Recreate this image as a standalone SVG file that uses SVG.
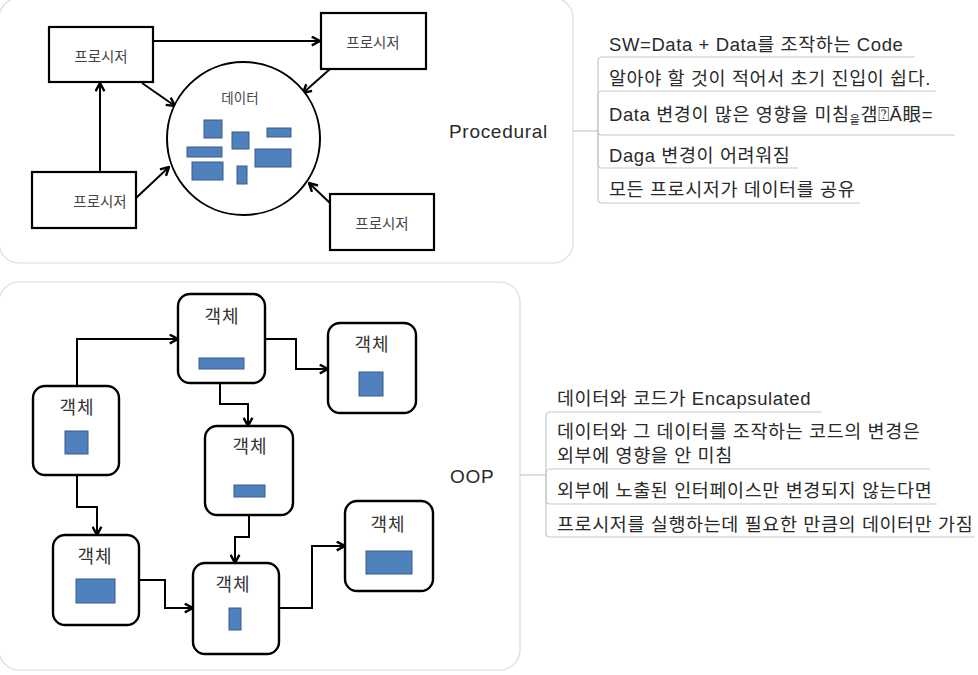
<svg xmlns="http://www.w3.org/2000/svg" width="978" height="675" viewBox="0 0 978 675">
<defs>
<style>
.panel{fill:#fff;stroke:#dcdcdc;stroke-width:1.2}
.box{fill:#fff;stroke:#000;stroke-width:2.2}
.obj{fill:#fff;stroke:#000;stroke-width:2.4}
.blue{fill:#4f81bd;stroke:#385d8a;stroke-width:1}
.conn{fill:none;stroke:#000;stroke-width:2;marker-end:url(#arr)}
.br{fill:none;stroke:#c9c9c9;stroke-width:1.2}
.lbl{font-family:"Noto Sans CJK KR","Liberation Sans",sans-serif;fill:#444;text-anchor:middle}
.obl{font-family:"Noto Sans CJK KR","Liberation Sans",sans-serif;fill:#333;text-anchor:middle;font-size:18px;letter-spacing:1px}
.item{font-family:"Liberation Sans","Noto Sans CJK KR",sans-serif;font-size:18.5px;letter-spacing:0.6px;fill:#2a2a2a}
.root{font-family:"Liberation Sans","Noto Sans CJK KR",sans-serif;font-size:19px;letter-spacing:0.7px;fill:#2a2a2a}
</style>
<marker id="arr" viewBox="0 0 10 10" refX="9" refY="5" markerWidth="11" markerHeight="11" markerUnits="userSpaceOnUse" orient="auto">
<path d="M1.5,1 L9,5 L1.5,9" fill="none" stroke="#000" stroke-width="2.2"/>
</marker>
</defs>
<rect width="978" height="675" fill="#fff"/>

<rect class="panel" x="-1" y="-2" width="574" height="265" rx="20"/>
<rect class="panel" x="-1" y="282" width="521" height="388" rx="20"/>

<g id="connectors">
<line class="conn" x1="153" y1="41" x2="320" y2="41"/>
<line class="conn" x1="100" y1="172" x2="100" y2="83"/>
<line class="conn" x1="142" y1="83" x2="175" y2="106"/>
<line class="conn" x1="136" y1="198" x2="169" y2="167"/>
<line class="conn" x1="330" y1="69" x2="303" y2="93"/>
<line class="conn" x1="331" y1="204" x2="309" y2="183"/>

<polyline class="conn" points="77,386 77,339 178,339"/>
<polyline class="conn" points="265,339 296,339 296,369 328,369"/>
<polyline class="conn" points="220,383 220,404 248,404 248,426"/>
<polyline class="conn" points="77,475 77,507 97,507 97,535"/>
<polyline class="conn" points="249,515 249,537 235,537 235,563"/>
<polyline class="conn" points="139,580 165,580 165,608 193,608"/>
<polyline class="conn" points="279,608 312,608 312,546 345,546"/>

<line class="br" x1="573" y1="131" x2="598" y2="131"/>
<path class="br" d="M598,131 V61 Q598,57 602,57 H915"/>
<path class="br" d="M598,131 V95 Q598,91 602,91 H936"/>
<path class="br" d="M598,131 Q598,135 602,135 H955"/>
<path class="br" d="M598,131 V164 Q598,168 602,168 H798"/>
<path class="br" d="M598,131 V199 Q598,203 602,203 H860"/>

<line class="br" x1="520" y1="475" x2="546" y2="475"/>
<path class="br" d="M546,475 V416 Q546,412 550,412 H822"/>
<path class="br" d="M546,475 Q546,469 550,469 H930"/>
<path class="br" d="M546,475 V500 Q546,504 550,504 H937"/>
<path class="br" d="M546,475 V533 Q546,537 550,537 H975"/>
</g>

<g id="proc1"><rect class="box" x="49" y="27" width="104" height="55"/><text class="lbl" x="101" y="62" font-size="14.5">프로시저</text></g>
<g id="proc2"><rect class="box" x="321" y="13" width="105" height="56"/><text class="lbl" x="373" y="48" font-size="14.5">프로시저</text></g>
<g id="proc3"><rect class="box" x="32" y="172" width="104" height="56"/><text class="lbl" x="100" y="207" font-size="14.5">프로시저</text></g>
<g id="proc4"><rect class="box" x="330" y="194" width="104" height="56"/><text class="lbl" x="382" y="229" font-size="14.5">프로시저</text></g>

<g id="data">
<ellipse cx="243.5" cy="138.5" rx="76.5" ry="76.5" fill="#fff" stroke="#000" stroke-width="2"/>
<text class="lbl" x="240" y="103" font-size="13.5">데이터</text>
<rect class="blue" x="204" y="120" width="18" height="18"/>
<rect class="blue" x="232" y="132" width="17" height="17"/>
<rect class="blue" x="267" y="128" width="24" height="9"/>
<rect class="blue" x="187" y="147" width="35" height="10"/>
<rect class="blue" x="255" y="149" width="36" height="18"/>
<rect class="blue" x="192" y="162" width="31" height="18"/>
<rect class="blue" x="237" y="166" width="10" height="18"/>
</g>

<g id="procedural"><text class="root" x="449" y="138">Procedural</text></g>
<g id="proc-items">
<text class="item" x="609" y="51">SW=Data + Data를 조작하는 Code</text>
<text class="item" x="609" y="85">알아야 할 것이 적어서 초기 진입이 쉽다.</text>
<text class="item" x="609" y="121">Data 변경이 많은 영향을 미침<tspan font-size="11" dy="3">읕</tspan><tspan dy="-3">갬⍰Ā眼=</tspan></text>
<text class="item" x="609" y="162">Daga 변경이 어려워짐</text>
<text class="item" x="609" y="196">모든 프로시저가 데이터를 공유</text>
</g>

<g id="objA"><rect class="obj" x="33" y="386" width="86" height="89" rx="12"/><text class="obl" x="77" y="414">객체</text><rect class="blue" x="65" y="431" width="23" height="23"/></g>
<g id="objB"><rect class="obj" x="178" y="294" width="87" height="89" rx="12"/><text class="obl" x="222" y="323">객체</text><rect class="blue" x="199" y="358" width="45" height="11"/></g>
<g id="objC"><rect class="obj" x="205" y="426" width="88" height="89" rx="12"/><text class="obl" x="250" y="453">객체</text><rect class="blue" x="234" y="485" width="31" height="12"/></g>
<g id="objD"><rect class="obj" x="53" y="535" width="86" height="90" rx="12"/><text class="obl" x="95" y="563">객체</text><rect class="blue" x="76" y="579" width="39" height="24"/></g>
<g id="objE"><rect class="obj" x="193" y="563" width="86" height="91" rx="12"/><text class="obl" x="233" y="591">객체</text><rect class="blue" x="229" y="608" width="12" height="22"/></g>
<g id="objF"><rect class="obj" x="328" y="323" width="88" height="90" rx="12"/><text class="obl" x="372" y="351">객체</text><rect class="blue" x="359" y="372" width="24" height="24"/></g>
<g id="objG"><rect class="obj" x="345" y="501" width="88" height="90" rx="12"/><text class="obl" x="388" y="531">객체</text><rect class="blue" x="366" y="551" width="46" height="23"/></g>

<g id="oop"><text class="root" x="450" y="483">OOP</text></g>
<g id="oop-items">
<text class="item" x="557" y="405">데이터와 코드가 Encapsulated</text>
<text class="item" x="557" y="438">데이터와 그 데이터를 조작하는 코드의 변경은</text>
<text class="item" x="557" y="462">외부에 영향을 안 미침</text>
<text class="item" x="557" y="497">외부에 노출된 인터페이스만 변경되지 않는다면</text>
<text class="item" x="557" y="531">프로시저를 실행하는데 필요한 만큼의 데이터만 가짐</text>
</g>
</svg>
